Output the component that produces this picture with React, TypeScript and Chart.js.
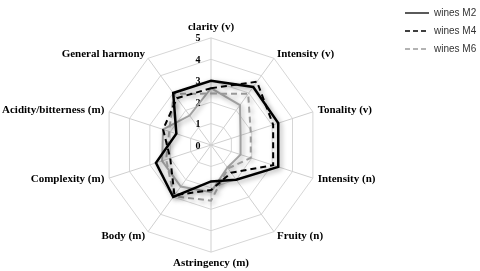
import React, { useEffect, useRef } from 'react';
import { Chart, registerables } from 'chart.js';

Chart.register(...registerables);

const categories = [
  'clarity (v)',
  'Intensity (v)',
  'Tonality (v)',
  'Intensity (n)',
  'Fruity (n)',
  'Astringency (m)',
  'Body (m)',
  'Complexity (m)',
  'Acidity/bitterness (m)',
  'General harmony',
];

const seriesLabels = ['wines M2', 'wines M4', 'wines M6', ''];

const winesM2 = [3.0, 3.35, 3.3, 3.3, 2.0, 1.7, 3.0, 2.7, 1.7, 3.0];
const winesM4 = [2.65, 3.65, 3.05, 3.05, 1.6, 2.1, 2.9, 2.0, 2.35, 2.7];
const winesM6 = [2.4, 2.95, 1.95, 1.95, 1.35, 2.6, 2.95, 2.2, 2.05, 2.95];
const winesOther = [2.65, 2.3, 1.45, 1.45, 1.3, 2.2, 2.4, 2.4, 2.35, 1.7];

const tickValues = [0, 1, 2, 3, 4, 5];

const shadowPlugin = {
  id: 'lineShadow',
  beforeDatasetDraw(chart: any) {
    const ctx = chart.ctx;
    ctx.save();
    ctx.shadowColor = 'rgba(0,0,0,0.35)';
    ctx.shadowBlur = 5;
    ctx.shadowOffsetX = 2;
    ctx.shadowOffsetY = 2;
  },
  afterDatasetDraw(chart: any) {
    chart.ctx.restore();
  },
};

const tickLabelPlugin = {
  id: 'tickLabelsLeft',
  beforeDatasetsDraw(chart: any) {
    const s = chart.scales.r;
    const ctx = chart.ctx;
    ctx.save();
    ctx.font = "bold 10px 'Liberation Serif', 'Times New Roman', serif";
    ctx.fillStyle = '#000';
    ctx.textAlign = 'center';
    ctx.textBaseline = 'middle';
    tickValues.forEach((v) => {
      const dist = s.getDistanceFromCenterForValue(v);
      ctx.fillText(String(v), s.xCenter - 13, s.yCenter - dist + 1);
    });
    ctx.restore();
  },
};

export default function App() {
  const ref = useRef<HTMLCanvasElement | null>(null);

  useEffect(() => {
    document.body.style.overflow = 'hidden';
    const canvas = ref.current;
    if (!canvas) return;
    const styles = [
      { color: '#000000', width: 2.5, dash: [] as number[] },
      { color: '#000000', width: 2, dash: [6, 4] },
      { color: '#9a9a9a', width: 2, dash: [6, 4] },
      { color: '#a0a0a0', width: 2, dash: [] as number[] },
    ];
    const values = [winesM2, winesM4, winesM6, winesOther];
    const chart = new Chart(canvas, {
      type: 'radar',
      data: {
        labels: categories,
        datasets: values.map((vals, i) => ({
          label: seriesLabels[i],
          data: vals,
          borderColor: styles[i].color,
          borderWidth: styles[i].width,
          borderDash: styles[i].dash,
          backgroundColor: 'rgba(0,0,0,0)',
          fill: false,
          pointRadius: 0,
          pointHoverRadius: 0,
          tension: 0,
        })),
      },
      options: {
        responsive: false,
        animation: false,
        devicePixelRatio: 1,
        layout: { padding: { left: 0, right: 20, top: 0, bottom: 0 } },
        plugins: {
          tooltip: { enabled: false },
          legend: {
            display: true,
            position: 'right',
            align: 'start',
            maxWidth: 80,
            title: {
              display: true,
              text: ' ',
              font: { size: 7.5, lineHeight: 1.2 },
              padding: 0,
            },
            labels: {
              usePointStyle: true,
              pointStyleWidth: 24,
              padding: 8,
              color: '#333333',
              font: { family: "'Liberation Sans', Arial, sans-serif", size: 10 },
              generateLabels: (ch: any) =>
                ch.data.datasets
                  .map((ds: any, i: number) => ({
                    text: ds.label,
                    strokeStyle: ds.borderColor,
                    fillStyle: 'rgba(0,0,0,0)',
                    lineWidth: 1.3,
                    lineDash: ds.borderDash && ds.borderDash.length ? [5, 3] : [],
                    pointStyle: 'line',
                    hidden: false,
                    datasetIndex: i,
                    fontColor: '#333333',
                  }))
                  .filter((it: any) => it.text),
            },
          },
        },
        scales: {
          r: {
            min: 0,
            max: 5,
            ticks: { stepSize: 1, display: false },
            grid: { color: '#d6d6d6', lineWidth: 1 },
            angleLines: { color: '#cfcfcf', lineWidth: 1 },
            pointLabels: {
              padding: (c: any) => (c.index === 0 || c.index === 5 ? 11 : 5),
              color: '#000000',
              font: {
                family: "'Liberation Serif', 'Times New Roman', serif",
                size: 11,
                weight: 'bold',
                lineHeight: 0,
              },
            },
          },
        },
      } as any,
      plugins: [shadowPlugin, tickLabelPlugin],
    });
    return () => chart.destroy();
  }, []);

  return (
    <div style={{ position: 'fixed', left: -21, top: -9, width: 518, height: 308 }}>
      <canvas ref={ref} width={518} height={308} style={{ display: 'block' }} />
    </div>
  );
}
